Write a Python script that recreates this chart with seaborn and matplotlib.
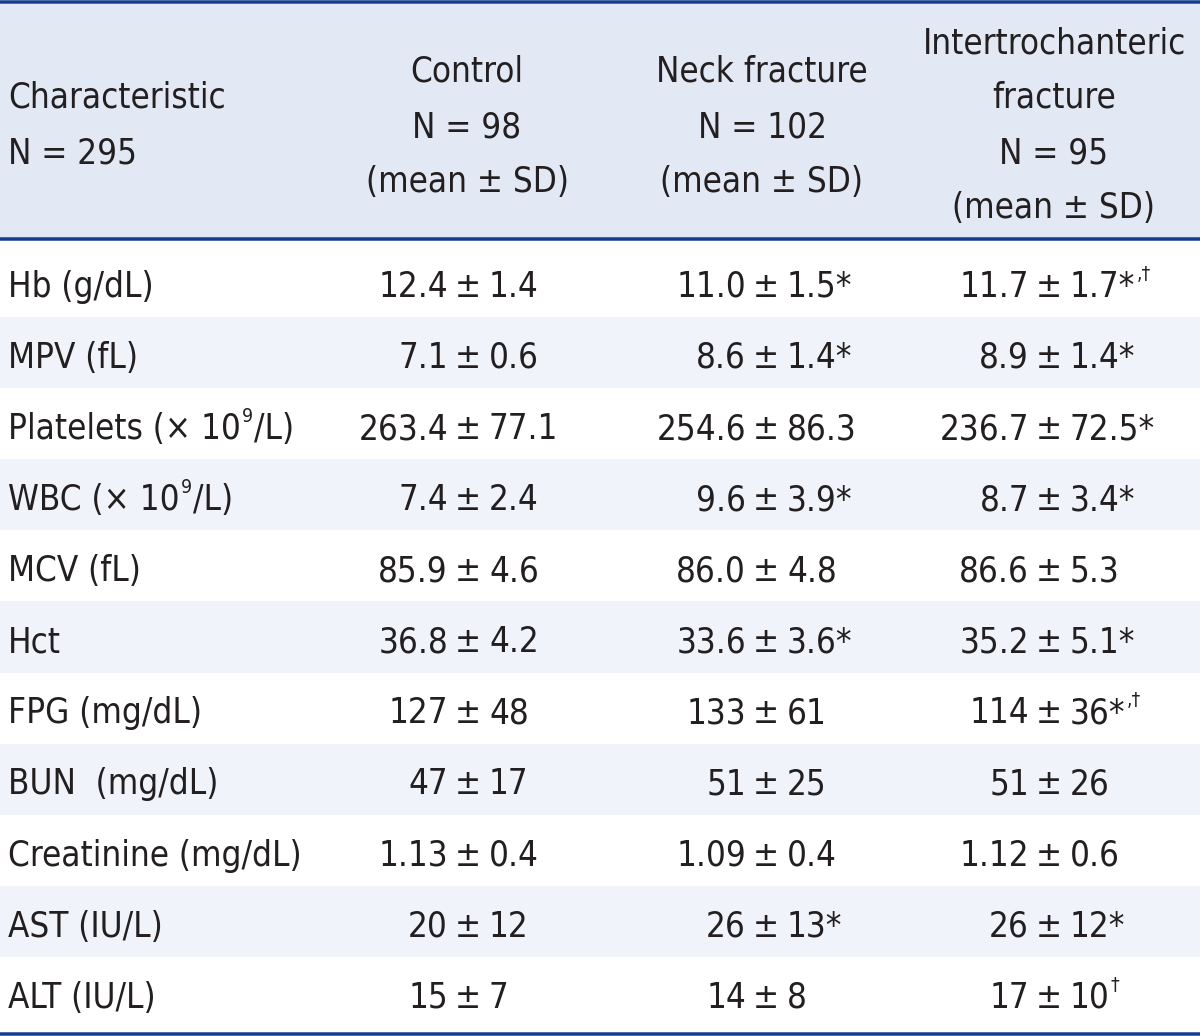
import numpy as np
import pandas as pd
import seaborn as sns
import matplotlib
matplotlib.use("Agg")
import matplotlib.pyplot as plt
from matplotlib import font_manager
from matplotlib.colors import ListedColormap
from matplotlib.transforms import blended_transform_factory
from matplotlib.lines import Line2D
from matplotlib.patches import Rectangle

# ---------------- data ----------------
header_first = ["Characteristic", "N = 295"]
group_headers = [
    ["Control", "N = 98", "(mean ± SD)"],
    ["Neck fracture", "N = 102", "(mean ± SD)"],
    ["Intertrochanteric", "fracture", "N = 95", "(mean ± SD)"],
]
characteristics = ["Hb (g/dL)", "MPV (fL)", "Platelets (× 10⁹/L)", "WBC (× 10⁹/L)",
                   "MCV (fL)", "Hct", "FPG (mg/dL)", "BUN  (mg/dL)",
                   "Creatinine (mg/dL)", "AST (IU/L)", "ALT (IU/L)"]
control_mean = ["12.4", "7.1", "263.4", "7.4", "85.9", "36.8", "127", "47", "1.13", "20", "15"]
control_sd = ["1.4", "0.6", "77.1", "2.4", "4.6", "4.2", "48", "17", "0.4", "12", "7"]
control_mark = ["", "", "", "", "", "", "", "", "", "", ""]
neck_mean = ["11.0", "8.6", "254.6", "9.6", "86.0", "33.6", "133", "51", "1.09", "26", "14"]
neck_sd = ["1.5", "1.4", "86.3", "3.9", "4.8", "3.6", "61", "25", "0.4", "13", "8"]
neck_mark = ["*", "*", "", "*", "", "*", "", "", "", "*", ""]
inter_mean = ["11.7", "8.9", "236.7", "8.7", "86.6", "35.2", "114", "51", "1.12", "26", "17"]
inter_sd = ["1.7", "1.4", "72.5", "3.4", "5.3", "5.1", "36", "26", "0.6", "12", "10"]
inter_mark = ["*,†", "*", "*", "*", "", "*", "*,†", "", "", "*", "†"]

# ---------------- style ----------------
LINE = "#123e8c"
HEAD_BG = "#e2e9f5"
STRIPE = "#f0f4fa"
TXT = "#231f20"

sns.set_theme(style="white")
names = {f.name for f in font_manager.fontManager.ttflist}
if "Liberation Sans Narrow" in names:
    FONT, FS, STRETCH = "Liberation Sans Narrow", 31, "normal"
else:
    FONT, FS, STRETCH = "DejaVu Sans", 25, "condensed"
plt.rcParams["font.family"] = [FONT, "DejaVu Sans"]

W, H = 1200, 1036
fig = plt.figure(figsize=(W / 100, H / 100), dpi=100)
fig.patch.set_facecolor("white")

# body stripes through a seaborn heatmap
body_top, body_bot = 246, 1028
ax = fig.add_axes([0, 1 - body_bot / H, 1, (body_bot - body_top) / H])
n = len(characteristics)
stripes = pd.DataFrame(np.array([[i % 2] * 4 for i in range(n)]))
sns.heatmap(stripes, ax=ax, cmap=ListedColormap(["#ffffff", STRIPE]), cbar=False,
            xticklabels=False, yticklabels=False, linewidths=0, vmin=0, vmax=1)
ax.set_xlabel("")
ax.set_ylabel("")

# overlay in pixel coordinates for header and rules
ov = fig.add_axes([0, 0, 1, 1])
ov.set_xlim(0, W)
ov.set_ylim(H, 0)
ov.axis("off")
ov.patch.set_alpha(0)

ov.add_patch(Rectangle((0, 3.5), W, 234, facecolor=HEAD_BG, edgecolor="none"))
for y in (1.75, 239.0, 1034.3):
    ov.add_line(Line2D([0, W], [y, y], color=LINE, lw=3.5 * 0.72, solid_capstyle="butt"))

kw = dict(fontsize=FS, color=TXT, fontstretch=STRETCH)
supkw = dict(fontsize=14, color=TXT, fontstretch=STRETCH)
# header texts
for s, yb in zip(header_first, (108, 163)):
    ov.text(8, yb, s, ha="left", va="baseline", **kw)
head_x = [467, 762, 1054]
for cx, lines in zip(head_x, group_headers):
    if len(lines) == 3:
        ys = (82, 137, 192)
    else:
        ys = (53, 108, 163, 218)
    for s, yb in zip(lines, ys):
        ov.text(cx, yb, s, ha="center", va="baseline", **kw)

# body texts
tr = blended_transform_factory(ax.transAxes, ax.transData)
renderer = fig.canvas.get_renderer()


def put_sup(t, yb, s):
    bb = t.get_window_extent(renderer)
    base_disp = tr.transform((0, yb))[1]
    return ov.text(bb.x1 + 1, H - base_disp - 17, s, ha="left", va="baseline", **supkw)


pm_x = [468, 766, 1049]
cols = [(control_mean, control_sd, control_mark),
        (neck_mean, neck_sd, neck_mark),
        (inter_mean, inter_sd, inter_mark)]
for i in range(n):
    yb = i + 0.715
    lab = characteristics[i]
    if "⁹" in lab:
        head, tail = lab.split("⁹")
        t1 = ax.text(8 / W, yb, head, transform=tr, ha="left", va="baseline", **kw)
        t2 = put_sup(t1, yb, "9")
        bb2 = t2.get_window_extent(renderer)
        ov.text(bb2.x1 + 1, H - tr.transform((0, yb))[1], tail, ha="left",
                va="baseline", **kw)
    else:
        ax.text(8 / W, yb, lab, transform=tr, ha="left", va="baseline", **kw)
    for px, (means, sds, marks) in zip(pm_x, cols):
        ax.text((px - 20) / W, yb, means[i], transform=tr, ha="right", va="baseline", **kw)
        ax.text(px / W, yb, "±", transform=tr, ha="center", va="baseline", **kw)
        m = marks[i]
        main = sds[i]
        if m.startswith("*"):
            main += "*"
            sup = m[1:]
        else:
            sup = m
        t = ax.text((px + 21) / W, yb, main, transform=tr, ha="left", va="baseline", **kw)
        if sup:
            put_sup(t, yb, sup)

fig.savefig("out.png", dpi=100, facecolor="white")
